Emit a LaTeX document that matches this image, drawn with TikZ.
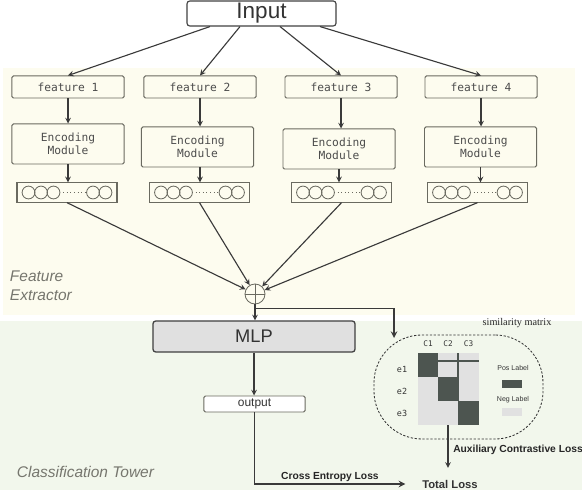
\documentclass[tikz,border=0pt]{standalone}
\usepackage{fontspec}
\setmainfont{Liberation Sans}
\newfontfamily\codefont{DejaVu Sans Mono}
\newfontfamily\labelserif{Liberation Serif}
\usetikzlibrary{calc}
\definecolor{bgfeat}{HTML}{FDFCEF}
\definecolor{bgcls}{HTML}{F2F7EC}
\definecolor{linecol}{HTML}{3A3A3A}
\definecolor{boxcol}{HTML}{6A6A60}
\definecolor{mlpfill}{HTML}{E0E0E0}
\definecolor{cellpos}{HTML}{4D5550}
\definecolor{cellneg}{HTML}{E1E1E1}
\definecolor{titlecol}{HTML}{76766E}
\tikzset{
  arr/.style={->,>=stealth,line width=0.8pt,draw=linecol},
  featbox/.style={draw=boxcol,line width=0.7pt,rounded corners=1pt,minimum width=2.8cm,minimum height=0.55cm,
    font=\codefont\fontsize{8}{9.3}\selectfont,text=black!70},
  encbox/.style={featbox,minimum height=1cm,align=center},
  barbox/.style={draw=boxcol,line width=0.8pt,minimum width=2.5cm,minimum height=0.48cm,inner sep=0pt},
  simbox/.style={draw=black!80,dash pattern=on 1.6pt off 1.2pt,line width=0.6pt,rounded corners=1.2cm,
    minimum width=4.225cm,minimum height=2.6cm},
  tinylab/.style={font=\codefont\fontsize{5.5}{6}\selectfont,text=black!80,inner sep=1pt},
  losslab/.style={font=\bfseries\fontsize{7.3}{8}\selectfont,text=black!85}
}
\begin{document}
\begin{tikzpicture}[x=0.025cm,y=-0.025cm]
\useasboundingbox (0,0) rectangle (582,490);
\fill[bgfeat] (3,68) rectangle (575,315);%特徴抽出部
\fill[bgcls] (0,321) rectangle (582,490);%分類部
\node[draw=black!75,line width=0.8pt,rounded corners=2pt,minimum width=3.725cm,minimum height=0.625cm,
  font=\fontsize{16}{18}\selectfont,text=black!80,inner sep=0pt] (inp) at (261.5,13.5) {Input};%入力
\node[featbox] (f1) at (68,87) {feature 1};
\node[featbox] (f2) at (200,87) {feature 2};
\node[featbox] (f3) at (341,87) {feature 3};
\node[featbox] (f4) at (481,87) {feature 4};
\node[encbox] (e1) at (68,144) {Encoding\\Module};
\node[encbox] (e2) at (197.5,147) {Encoding\\Module};
\node[encbox] (e3) at (339,149) {Encoding\\Module};
\node[encbox] (e4) at (480.5,147) {Encoding\\Module};
\node[barbox] (b1) at (67,192.5) {};
\node[barbox] (b2) at (199.5,192.5) {};
\node[barbox] (b3) at (341.5,192.5) {};
\node[barbox] (b4) at (477.5,192.5) {};
\foreach \b in {b1,b2,b3,b4}{%埋め込みベクトル
  \foreach \dx in {-38.5,-26,-13.5,26,38.5}
    \draw[boxcol,line width=0.6pt] ($(\b)+(\dx,0)$) circle[radius=0.16cm];
  \draw[boxcol,line width=0.6pt,dotted] ($(\b)+(-4,0)$) -- ($(\b)+(18,0)$);
}
\draw[arr] ($(inp.south)+(-51.5,0)$) -- (f1.north);
\draw[arr] ($(inp.south)+(-21.5,0)$) -- (f2.north);
\draw[arr] ($(inp.south)+(18.5,0)$) -- (f3.north);
\draw[arr] ($(inp.south)+(58.5,0)$) -- (f4.north);
\draw[arr] (f1.south) -- (f1.south |- e1.north);
\draw[arr] (f2.south) -- (f2.south |- e2.north);
\draw[arr] (f3.south) -- (f3.south |- e3.north);
\draw[arr] (f4.south) -- (f4.south |- e4.north);
\coordinate (e2b) at ($(e2.south)+(2.5,0)$);
\draw[arr] (e1.south) -- (e1.south |- b1.north);
\draw[arr] (e2b) -- (e2b |- b2.north);
\draw[arr] (e3.south) -- (e3.south |- b3.north);
\draw[arr] (e4.south) -- (e4.south |- b4.north);
\node[circle,draw=boxcol,line width=0.6pt,fill=bgfeat,minimum size=0.5cm,inner sep=0pt] (sum) at (255,294) {};%和
\draw[boxcol,line width=0.5pt] (sum.north) -- (sum.south) (sum.west) -- (sum.east);
\draw[arr] (b1.south) -- (sum);
\draw[arr] (b2.south) -- (sum);
\draw[arr] (b3.south) -- (sum);
\draw[arr] (b4.south) -- (sum);
\node[anchor=west,align=left,font=\itshape\fontsize{11}{13.5}\selectfont,text=titlecol] (fetit) at (5,285.5) {Feature\\Extractor};
\node[draw=black!75,fill=mlpfill,line width=0.9pt,rounded corners=2pt,minimum width=5.05cm,minimum height=0.775cm,
  font=\fontsize{13}{15}\selectfont,text=black!80,inner sep=0pt] (mlp) at (254,336.5) {MLP};
\draw[arr] (sum.south) -- (sum.south |- mlp.north);
\coordinate (br) at ($(sum.south)+(0,4)$);%分岐
\coordinate (simin) at (394,338);
\draw[arr,line width=1.1pt] (br) -| (simin);
\node[simbox] (sim) at (458.5,387) {};%類似度行列
\node[font=\labelserif\fontsize{7.3}{8}\selectfont,text=black!85] (simlab) at (517,323) {similarity matrix};
\fill[cellneg] (418,353) rectangle (479,425);
\fill[cellpos] (418,353) rectangle (438,377);
\fill[cellpos] (438,377) rectangle (458,401);
\fill[cellpos] (458,401) rectangle (479,425);
\draw[cellpos,line width=0.9pt] (418,361) -- (479,361);
\draw[cellpos,line width=0.9pt] (458,353) -- (458,401);
\node[tinylab] (c1) at (428,344) {C1};
\node[tinylab] (c2) at (448,344) {C2};
\node[tinylab] (c3) at (468.5,344) {C3};
\node[tinylab,font=\codefont\fontsize{6}{7}\selectfont] (r1) at (402,369) {e1};
\node[tinylab,font=\codefont\fontsize{6}{7}\selectfont] (r2) at (402,391) {e2};
\node[tinylab,font=\codefont\fontsize{6}{7}\selectfont] (r3) at (402,413) {e3};
\node[font=\fontsize{5}{6}\selectfont,text=black!80,inner sep=1pt] (poslab) at (513,368) {Pos Label};
\fill[cellpos] (502,380) rectangle (522,388);
\node[font=\fontsize{5}{6}\selectfont,text=black!80,inner sep=1pt] (neglab) at (513,400) {Neg Label};
\fill[cellneg] (502,408) rectangle (522,416);
\node[draw=boxcol,fill=white,line width=0.7pt,rounded corners=1pt,minimum width=2.525cm,minimum height=0.4cm,
  font=\fontsize{8.5}{9}\selectfont,text=black!80,inner sep=0pt] (out) at (254.5,404) {output};%出力
\draw[arr] (mlp.south) -- (mlp.south |- out.north);
\node[font=\bfseries\fontsize{8}{9}\selectfont,text=black!80] (tot) at (450,484) {Total Loss};%損失
\coordinate (matb) at (448,425);
\draw[arr,shorten >=5pt] (matb) -- (matb |- tot.north) node[midway,right,losslab]{Auxiliary Contrastive Loss};
\draw[arr,line width=1.1pt] (out.south) |- ($(tot.west)+(-12,0)$) node[pos=0.75,above,inner sep=1pt,losslab]{Cross Entropy Loss};
\node[anchor=west,font=\itshape\fontsize{11}{13}\selectfont,text=titlecol] (cltit) at (12,472) {Classification Tower};
\end{tikzpicture}
\end{document}
